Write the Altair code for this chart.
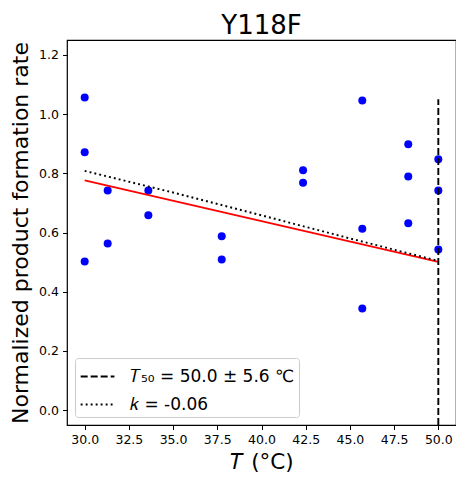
import altair as alt
import pandas as pd

# scatter data
temps = [30.0, 30.0, 30.0, 31.3, 31.3, 33.6, 33.6, 37.75, 37.75, 42.35, 42.35,
         45.7, 45.7, 45.7, 48.3, 48.3, 48.3, 50.0, 50.0, 50.0]
rates = [1.056, 0.871, 0.502, 0.742, 0.563, 0.742, 0.658, 0.587, 0.509, 0.810, 0.768,
         1.046, 0.613, 0.343, 0.898, 0.789, 0.631, 0.847, 0.742, 0.543]

# red linear fit
fit_t = [30.0, 50.0]
fit_y = [0.776, 0.501]

# dotted k curve
k_t = [30.0, 35.0, 40.0, 45.0, 50.0]
k_y = [0.808, 0.735, 0.658, 0.580, 0.504]

# dashed T50 line
t50_t = [50.0, 50.0]
t50_y = [-0.05, 1.05]

lab_t50 = "\U0001D447\u2085\u2080 = 50.0 \u00b1 5.6 \u2103"
lab_k = "\U0001D458 = -0.06"

pts = pd.DataFrame({"T": temps, "rate": rates})
fit = pd.DataFrame({"T": fit_t, "rate": fit_y})
legend_df = pd.DataFrame({
    "T": t50_t + k_t,
    "rate": t50_y + k_y,
    "series": [lab_t50] * len(t50_t) + [lab_k] * len(k_t),
    "idx": list(range(len(t50_t))) + list(range(len(k_t))),
})

FONT = "DejaVu Sans"
xs = alt.Scale(domain=[29, 51], nice=False, zero=False)
ys = alt.Scale(domain=[-0.05, 1.25], nice=False, zero=False)

xaxis = alt.Axis(values=[30, 32.5, 35, 37.5, 40, 42.5, 45, 47.5, 50], format=".1f",
                 title="\U0001D447 (\u00b0C)", grid=False)
yaxis = alt.Axis(values=[0, 0.2, 0.4, 0.6, 0.8, 1.0, 1.2], format=".1f",
                 title="Normalized product formation rate", grid=False)

points = alt.Chart(pts).mark_circle(size=64, color="#0000ff", opacity=1).encode(
    x=alt.X("T:Q", scale=xs, axis=xaxis),
    y=alt.Y("rate:Q", scale=ys, axis=yaxis),
)

redline = alt.Chart(fit).mark_line(color="#ff0000", strokeWidth=1.9).encode(
    x=alt.X("T:Q", scale=xs),
    y=alt.Y("rate:Q", scale=ys),
)

lines = alt.Chart(legend_df).mark_line(color="black", strokeWidth=1.9, clip=True).encode(
    x=alt.X("T:Q", scale=xs),
    y=alt.Y("rate:Q", scale=ys),
    order="idx:Q",
    strokeDash=alt.StrokeDash(
        "series:N",
        scale=alt.Scale(domain=[lab_t50, lab_k], range=[[7, 3], [1.9, 3.1]]),
        legend=alt.Legend(title=None, orient="bottom-left",
                          symbolType="M-0.95,0H1.55",
                          symbolStrokeColor="black", symbolStrokeWidth=1.9,
                          symbolFillColor="transparent",
                          symbolSize=729, labelFontSize=17, labelFont=FONT,
                          labelColor="black", labelLimit=400, fillColor="white",
                          strokeColor="#cccccc", padding=4, offset=8,
                          cornerRadius=3, rowPadding=5, labelOffset=22),
    ),
)

chart = alt.layer(points, redline, lines).properties(
    width=389, height=385,
    title=alt.TitleParams("Y118F", fontSize=26, font=FONT, fontWeight="normal",
                          color="black", offset=1),
    autosize=alt.AutoSizeParams(type="none"),
    padding={"left": 59, "top": 32, "right": 0, "bottom": 50},
).configure_view(stroke="black", strokeWidth=1.2).configure_axis(
    labelFont=FONT, titleFont=FONT, labelFontSize=12.5, titleFontSize=22.5,
    titleFontWeight="normal", labelColor="black", titleColor="black",
    domainColor="black", tickColor="black", tickSize=4.5, labelPadding=4,
    domain=False,
).configure_axisY(titlePadding=6, titleFontSize=22).configure_axisX(titlePadding=5, titleFontSize=21.5)

chart.save("out.html", embed_options={"renderer": "svg", "actions": False})
